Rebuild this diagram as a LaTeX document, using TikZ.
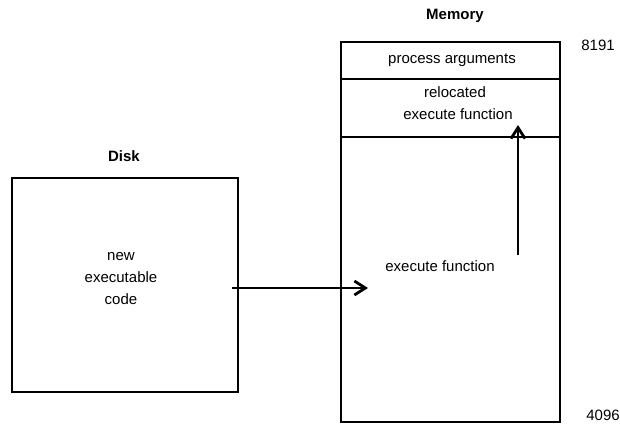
\documentclass[tikz,border=0pt]{standalone}
\usepackage{fontspec}
\setmainfont{Liberation Sans}
\usetikzlibrary{arrows.meta}
\begin{document}
\begin{tikzpicture}[x=1pt,y=-1pt,
  txt/.style={font=\fontsize{15}{22}\selectfont, inner sep=0pt, align=center},
  ttl/.style={font=\fontsize{15}{18}\selectfont\bfseries, inner sep=0pt},
  box/.style={draw, line width=2.8pt, inner sep=0pt},
  sep/.style={line width=2.8pt},
  conn/.style={line width=2.8pt, -{Straight Barb[length=11pt,width=14pt]}}]
\useasboundingbox (0,0) rectangle (620,424);
% Disk
\node[box, minimum width=226pt, minimum height=214pt] (disk) at (125,285) {};
\node[ttl] (disklbl) at (124,156) {Disk};
\node[txt] (code) at (121,279) {new\\executable\\code};
% Memory
\node[box, minimum width=219pt, minimum height=380pt] (mem) at (450.5,232) {};
\node[ttl] (memlbl) at (455,16) {Memory};
\coordinate (l1a) at (mem.west |- 0,79);
\coordinate (l1b) at (mem.east |- 0,79);
\coordinate (l2a) at (mem.west |- 0,137);
\coordinate (l2b) at (mem.east |- 0,137);
\draw[sep] (l1a) -- (l1b);
\draw[sep] (l2a) -- (l2b);
\node[txt] (args) at (452,60) {process arguments};
\node[txt] (reloc) at (455,103) {relocated\\\hspace*{6pt}execute function};
\node[txt] (exec) at (440,266) {execute function};
\node[txt] (hi) at (598,45) {8191};
\node[txt] (lo) at (603,415) {4096};
% arrows
\coordinate (a1s) at (232,288);
\coordinate (a1e) at (368,288);
\draw[conn] (a1s) -- (a1e);
\coordinate (a2s) at (518,255);
\coordinate (a2e) at (518,125);
\draw[conn] (a2s) -- (a2e);
\end{tikzpicture}
\end{document}
